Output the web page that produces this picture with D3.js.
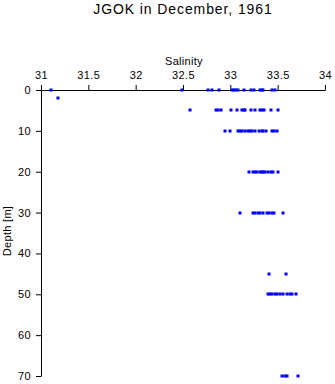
<!DOCTYPE html>
<html><head><meta charset="utf-8">
<script src="https://cdn.jsdelivr.net/npm/d3@7"></script>
<style>body{margin:0;background:#fff;}svg{display:block;font-family:"Liberation Sans",Arial,Helvetica,sans-serif;}</style>
</head><body>
<svg id="chart" width="335" height="384"></svg>
<script>
const title = "JGOK in December, 1961";
const xLabel = "Salinity";
const yLabel = "Depth [m]";
const xTicks = [31, 31.5, 32, 32.5, 33, 33.5, 34];
const yTicks = [0, 10, 20, 30, 40, 50, 60, 70];

const depth0 = [31.11, 32.49, 32.76, 32.81, 32.88, 33.02, 33.04, 33.06, 33.08, 33.14, 33.22, 33.25, 33.31, 33.33, 33.35, 33.44, 33.47];
const depth2 = [31.18];
const depth5 = [32.57, 32.85, 32.87, 32.90, 33.01, 33.07, 33.12, 33.14, 33.16, 33.22, 33.26, 33.31, 33.33, 33.36, 33.43, 33.50];
const depth10 = [32.94, 33.00, 33.08, 33.10, 33.12, 33.15, 33.19, 33.21, 33.23, 33.26, 33.30, 33.33, 33.35, 33.38, 33.44, 33.46, 33.49];
const depth20 = [33.20, 33.24, 33.26, 33.28, 33.31, 33.33, 33.35, 33.37, 33.40, 33.43, 33.45, 33.50];
const depth30 = [33.10, 33.24, 33.26, 33.29, 33.31, 33.34, 33.39, 33.41, 33.44, 33.46, 33.56];
const depth45 = [33.41, 33.59];
const depth50 = [33.40, 33.42, 33.44, 33.47, 33.49, 33.52, 33.56, 33.60, 33.63, 33.65, 33.69];
const depth70 = [33.55, 33.58, 33.60, 33.72];

const groups = [[0, depth0], [2, depth2], [5, depth5], [10, depth10], [20, depth20], [30, depth30], [45, depth45], [50, depth50], [70, depth70]];
const points = [];
groups.forEach(([d, arr]) => arr.forEach(s => points.push({depth: d, sal: s})));

const svg = d3.select("#chart");
const x = d3.scaleLinear().domain([31, 34]).range([41, 325]);
const y = d3.scaleLinear().domain([0, 70]).range([90, 376]);

const xAxis = svg.append("g").attr("transform", "translate(0,90)")
  .call(d3.axisTop(x).tickValues(xTicks).tickFormat(d3.format("")).tickSize(5).tickPadding(6).tickSizeOuter(0));
const yAxis = svg.append("g").attr("transform", "translate(41,0)")
  .call(d3.axisLeft(y).tickValues(yTicks).tickSize(5).tickPadding(5).tickSizeOuter(0));

[xAxis, yAxis].forEach(g => {
  g.select(".domain").attr("stroke", "#000").attr("stroke-width", 1);
  g.selectAll(".tick line").attr("stroke", "#000");
  g.selectAll(".tick text").attr("fill", "#000").style("font-size", "11px")
    .style("letter-spacing", "0.4px").style("font-family", "Liberation Sans, Arial, sans-serif");
});

svg.append("g").selectAll("rect").data(points).join("rect")
  .attr("x", d => Math.round(x(d.sal)) - 1.5)
  .attr("y", d => Math.round(y(d.depth)) - 1.5)
  .attr("width", 3).attr("height", 3)
  .attr("fill", "#0000ff");

svg.append("text").attr("x", 183).attr("y", 14).attr("text-anchor", "middle")
  .style("font-size", "14px").style("letter-spacing", "0.9px").text(title);
svg.append("text").attr("x", 184).attr("y", 65).attr("text-anchor", "middle")
  .style("font-size", "11px").style("letter-spacing", "0.3px").text(xLabel);
svg.append("text").attr("transform", "translate(11,231) rotate(-90)").attr("text-anchor", "middle")
  .style("font-size", "11px").style("letter-spacing", "0.3px").text(yLabel);
</script>
</body></html>
